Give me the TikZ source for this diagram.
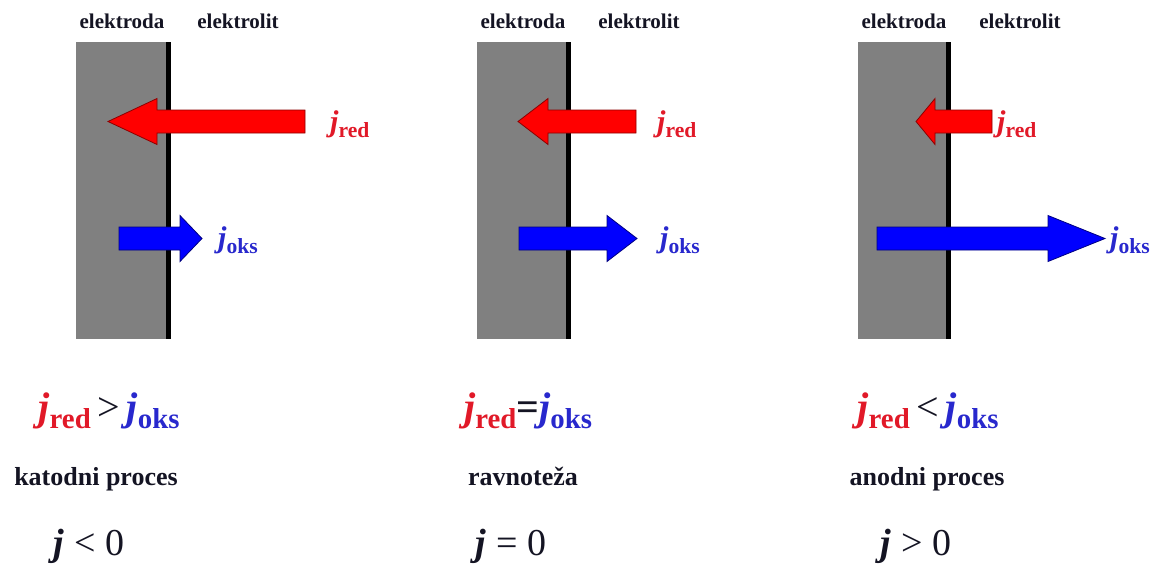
\documentclass[tikz,border=0pt]{standalone}
\usepackage{fontspec}
\usepackage{graphicx}
\usepackage{xcolor}
\setmainfont{Liberation Serif}
\usetikzlibrary{positioning}

\definecolor{elgray}{RGB}{128,128,128}
\definecolor{fluxred}{RGB}{255,0,0}
\definecolor{fluxblue}{RGB}{0,0,255}
\definecolor{txtred}{RGB}{225,25,40}
\definecolor{txtblue}{RGB}{40,40,205}
\definecolor{txtblack}{RGB}{20,20,35}

% current density symbol with subscript
\newcommand{\jsub}[1]{\textbf{\textit{j}}\raisebox{-0.2em}{\scalebox{0.72}{\textbf{#1}}}}
% flux arrow: style, tail x, head base x, tip x, y
\newcommand{\fluxarrow}[5]{%
  \draw[#1] (#2,#5-11.5) -- (#3,#5-11.5) -- (#3,#5-23) -- (#4,#5)
    -- (#3,#5+23) -- (#3,#5+11.5) -- (#2,#5+11.5) -- cycle;}

\begin{document}
\begin{tikzpicture}[x=1pt,y=-1pt,
  electrode/.style={fill=elgray},
  interface/.style={line width=4.5pt},
  redflux/.style={fill=fluxred, draw=fluxred!55!black, line width=0.8pt, line join=miter},
  oksflux/.style={fill=fluxblue, draw=fluxblue!50!black, line width=0.8pt, line join=miter},
  toplabel/.style={font=\fontsize{21}{24}\selectfont\bfseries, text=txtblack, inner sep=0pt},
  fluxlabel/.style={font=\fontsize{30}{34}\selectfont, anchor=west, inner sep=0pt},
  relation/.style={font=\fontsize{40}{44}\selectfont, anchor=base, inner sep=0pt},
  procname/.style={font=\fontsize{26}{30}\selectfont\bfseries, text=txtblack, anchor=base, inner sep=0pt},
  sign/.style={font=\fontsize{38}{42}\selectfont, text=txtblack, anchor=base, inner sep=0pt}]
  \useasboundingbox (0,0) rectangle (1166,574);

  % electrode and interface
  \foreach \n/\xl/\xr in {1/76/166, 2/477/566, 3/858/946}{
    \fill[electrode] (\xl,42) rectangle (\xr,339);
    \draw[interface] (\xr+2.5,42) -- (\xr+2.5,339);
    \node[toplabel] (elektroda\n) at (\xl+46,21) {elektroda};
    \node[toplabel] (elektrolit\n) at (\xl+162,21) {elektrolit};
  }

  % reduction and oxidation currents
  \fluxarrow{redflux}{305}{157}{108}{121.5}
  \fluxarrow{redflux}{636}{548}{518}{121.5}
  \fluxarrow{redflux}{992}{935}{916}{121.5}
  \fluxarrow{oksflux}{119}{180}{202}{238.5}
  \fluxarrow{oksflux}{519}{607}{637}{238.5}
  \fluxarrow{oksflux}{877}{1048}{1105}{238.5}

  \node[fluxlabel, text=txtred] (jred1) at (330,124) {\jsub{red}};
  \node[fluxlabel, text=txtred] (jred2) at (657,124) {\jsub{red}};
  \node[fluxlabel, text=txtred] (jred3) at (997,124) {\jsub{red}};
  \node[fluxlabel, text=txtblue] (joks1) at (218,240) {\jsub{oks}};
  \node[fluxlabel, text=txtblue] (joks2) at (660,240) {\jsub{oks}};
  \node[fluxlabel, text=txtblue] (joks3) at (1110,240) {\jsub{oks}};

  % comparison of the two currents
  \node[relation] (rel1) at (109,420)
    {\textcolor{txtred}{\jsub{red}}\,\textcolor{txtblack}{>}\,\textcolor{txtblue}{\jsub{oks}}};
  \node[relation] (rel2) at (528,420)
    {\textcolor{txtred}{\jsub{red}}\textcolor{txtblack}{\textbf{=}}\textcolor{txtblue}{\jsub{oks}}};
  \node[relation] (rel3) at (928,420)
    {\textcolor{txtred}{\jsub{red}}\,\textcolor{txtblack}{<}\,\textcolor{txtblue}{\jsub{oks}}};

  \node[procname] (proc1) at (96,485) {katodni proces};
  \node[procname] (proc2) at (523,485) {ravnoteža};
  \node[procname] (proc3) at (927,485) {anodni proces};

  \node[sign] (sign1) at (89,555) {\textbf{\textit{j}} < 0};
  \node[sign] (sign2) at (511,555) {\textbf{\textit{j}} = 0};
  \node[sign] (sign3) at (916,555) {\textbf{\textit{j}} > 0};
\end{tikzpicture}
\end{document}
